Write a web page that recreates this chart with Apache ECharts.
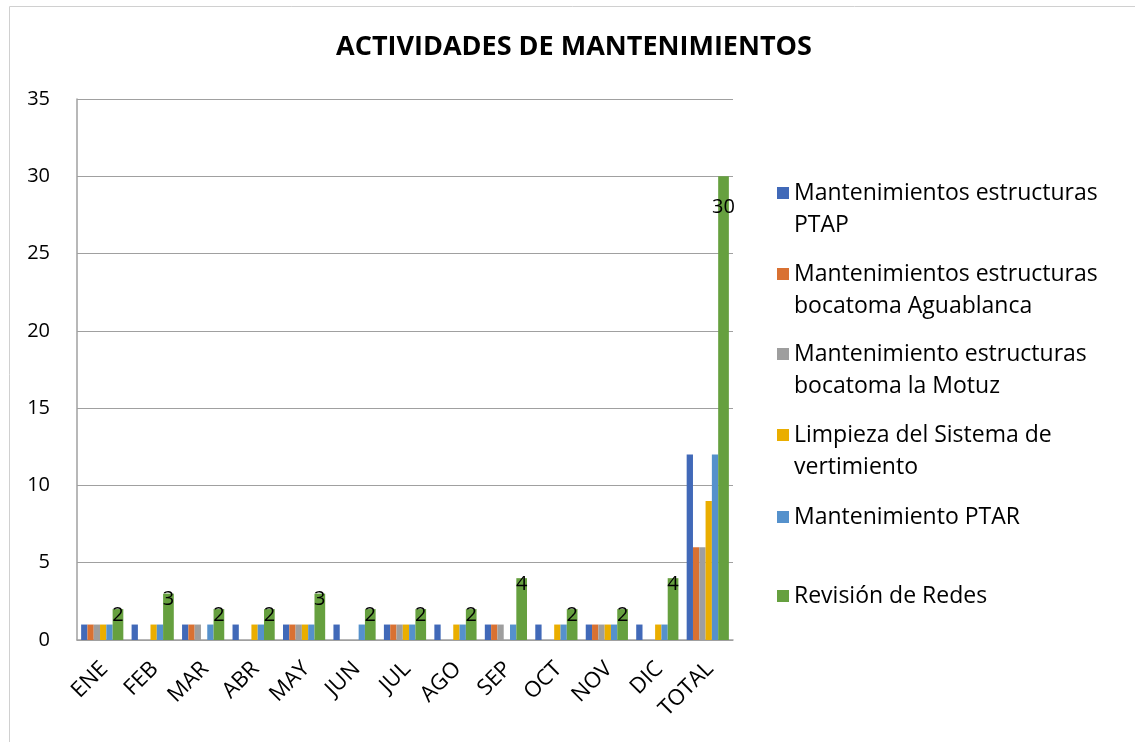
<!DOCTYPE html>
<html>
<head>
<meta charset="utf-8">
<script src="https://cdn.jsdelivr.net/npm/echarts@6/dist/echarts.min.js"></script>
<style>
  html, body { margin: 0; padding: 0; background: #fff; }
  #chart { width: 1135px; height: 742px; }
</style>
</head>
<body>
<div id="chart"></div>
<script>
const months = ['ENE', 'FEB', 'MAR', 'ABR', 'MAY', 'JUN', 'JUL', 'AGO', 'SEP', 'OCT', 'NOV', 'DIC', 'TOTAL']

const seriesNames = [
  'Mantenimientos estructuras\nPTAP',
  'Mantenimientos estructuras\nbocatoma Aguablanca',
  'Mantenimiento estructuras\nbocatoma la Motuz',
  'Limpieza del Sistema de\nvertimiento',
  'Mantenimiento PTAR',
  'Revisión de Redes'
]

const ptap = [1, 1, 1, 1, 1, 1, 1, 1, 1, 1, 1, 1, 12]
const aguablanca = [1, 0, 1, 0, 1, 0, 1, 0, 1, 0, 1, 0, 6]
const motuz = [1, 0, 1, 0, 1, 0, 1, 0, 1, 0, 1, 0, 6]
const vertimiento = [1, 1, 0, 1, 1, 0, 1, 1, 0, 1, 1, 1, 9]
const ptar = [1, 1, 1, 1, 1, 1, 1, 1, 1, 1, 1, 1, 12]
const redes = [2, 3, 2, 2, 3, 2, 2, 2, 4, 2, 2, 4, 30]

const yTicks = [0, 5, 10, 15, 20, 25, 30, 35]

const colors = ['#4169B8', '#D97132', '#9E9E9E', '#EAAE00', '#5591CC', '#66A03F']
const font = 'Open Sans'

const myChart = echarts.init(document.getElementById('chart'))

const allValues = [ptap, aguablanca, motuz, vertimiento, ptar, redes]

const series = allValues.map((vals, i) => {
  const s = {
    name: seriesNames[i],
    type: 'bar',
    barGap: 0,
    barWidth: i === 5 ? 10.7 : 6.3,
    itemStyle: { color: colors[i] },
    data: vals.map(v => (v === 0 ? null : v))
  }
  if (i === 5) {
    s.label = {
      show: true,
      position: 'insideTop',
      distance: 0,
      offset: [0, -4],
      color: '#000',
      fontFamily: font,
      fontSize: 20
    }
    s.data = vals.map((v, k) => (k === vals.length - 1 ? { value: v, label: { offset: [0, 21] } } : v))
  }
  return s
})

// one legend per entry so each can sit where it sits in the picture;
// a leading empty line keeps the marker level with the first text line
const legendTops = [140, 221, 301, 382, 496, 575]
const legends = seriesNames.map((n, i) => ({
  data: [n],
  left: 772,
  top: legendTops[i],
  orient: 'vertical',
  icon: 'rect',
  itemWidth: 12,
  itemHeight: 12,
  itemGap: 0,
  selectedMode: false,
  formatter: name => (name.indexOf('\n') >= 0 ? '\n' + name : name),
  textStyle: {
    fontFamily: font,
    fontSize: 23,
    color: '#000',
    lineHeight: 32
  }
}))

const option = {
  animation: false,
  color: colors,
  title: {
    text: 'ACTIVIDADES DE MANTENIMIENTOS',
    left: 569,
    textAlign: 'center',
    top: 29,
    textStyle: { fontFamily: font, fontSize: 27, fontWeight: 'bold', color: '#000' }
  },
  graphic: [{
    type: 'rect',
    shape: { x: 9.5, y: 6.5, width: 1140, height: 760 },
    style: { fill: 'none', stroke: '#d0d0d0', lineWidth: 1 },
    z: -1
  }],
  legend: legends,
  grid: { left: 77, right: 402, top: 99, bottom: 102, containLabel: false },
  xAxis: {
    type: 'category',
    data: months,
    axisLine: { lineStyle: { color: '#a0a0a0', width: 1.5 } },
    axisTick: { show: false },
    axisLabel: {
      rotate: 45,
      margin: 12,
      interval: 0,
      verticalAlign: 'top',
      padding: [0, 8, 0, 0],
      fontFamily: font,
      fontSize: 22,
      color: '#000'
    }
  },
  yAxis: {
    type: 'value',
    min: yTicks[0],
    max: yTicks[yTicks.length - 1],
    interval: 5,
    axisLine: { show: true, lineStyle: { color: '#a0a0a0', width: 1.5 } },
    axisTick: { show: false },
    axisLabel: { margin: 27, fontFamily: font, fontSize: 20, color: '#000' },
    splitLine: { lineStyle: { color: '#a0a0a0', width: 1 } }
  },
  series: series
}

myChart.setOption(option)
</script>
</body>
</html>
